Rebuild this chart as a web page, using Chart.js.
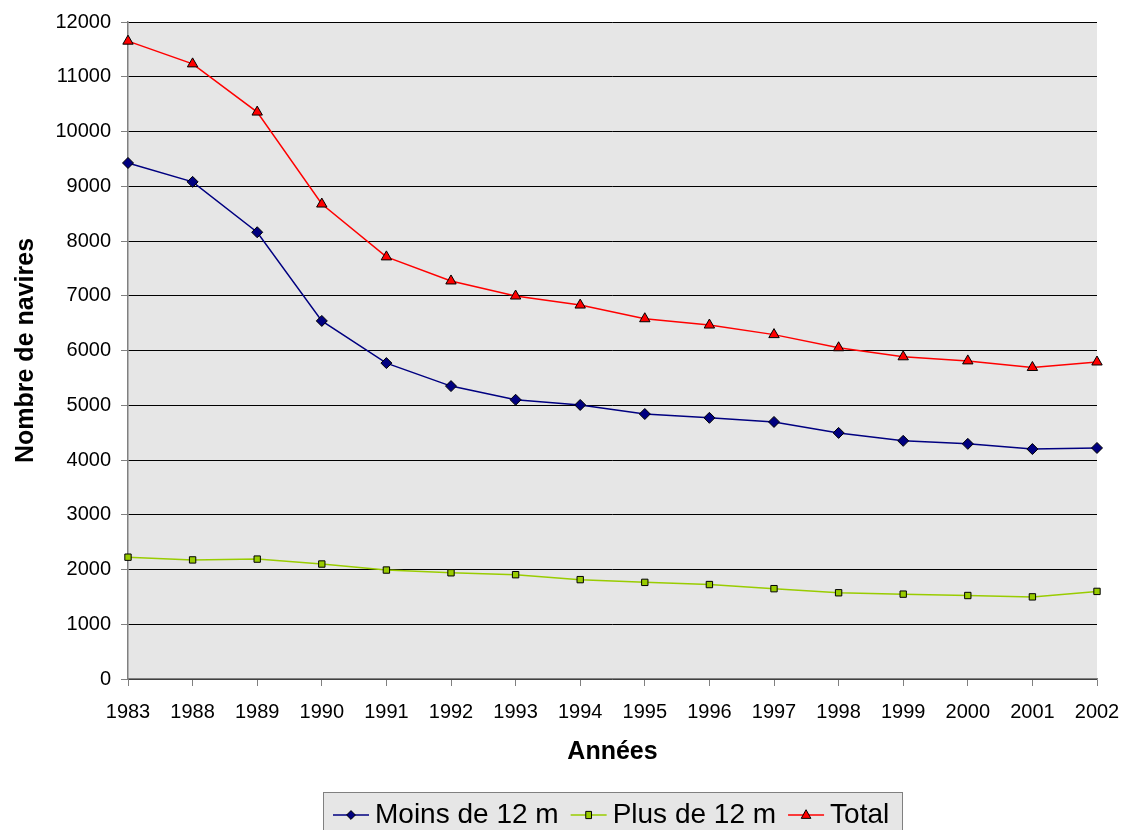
<!DOCTYPE html>
<html>
<head>
<meta charset="utf-8">
<script src="https://cdn.jsdelivr.net/npm/chart.js@4"></script>
<style>
  html, body { margin: 0; padding: 0; background: #fff; }
  #wrap { width: 1122px; height: 830px; }
</style>
</head>
<body>
<div id="wrap"><canvas id="shipChart" width="1122" height="830"></canvas></div>
<script>
const years = ['1983', '1988', '1989', '1990', '1991', '1992', '1993', '1994', '1995', '1996', '1997', '1998', '1999', '2000', '2001', '2002'];
const moins12 = [9425, 9080, 8160, 6540, 5770, 5350, 5100, 5005, 4840, 4770, 4695, 4495, 4350, 4295, 4200, 4220];
const plus12 = [2225, 2175, 2190, 2100, 1990, 1940, 1905, 1815, 1765, 1725, 1650, 1575, 1550, 1525, 1500, 1600];
const total = [11650, 11235, 10355, 8675, 7710, 7270, 6995, 6830, 6580, 6465, 6290, 6050, 5885, 5810, 5690, 5790];

Chart.defaults.font.family = '"Liberation Sans", Arial, sans-serif';
Chart.defaults.color = '#000';

const plotBackground = {
    id: 'plotBackground',
    beforeDraw(chart) {
        const { ctx, chartArea } = chart;
        ctx.save();
        ctx.fillStyle = '#e6e6e6';
        ctx.fillRect(chartArea.left, chartArea.top, chartArea.right - chartArea.left, chartArea.bottom - chartArea.top);
        ctx.restore();
    }
};

function drawMarker(ctx, style, x, y, r) {
    if (style === 'rectRot') {
        ctx.moveTo(x, y - r); ctx.lineTo(x + r, y); ctx.lineTo(x, y + r); ctx.lineTo(x - r, y); ctx.closePath();
    } else if (style === 'rect') {
        ctx.rect(x - r * 0.8, y - r, r * 1.6, r * 2);
    } else {
        ctx.moveTo(x, y - r * 1.1); ctx.lineTo(x + r, y + r * 0.7); ctx.lineTo(x - r, y + r * 0.7); ctx.closePath();
    }
}

// legend box at the bottom, line + marker like the spreadsheet one
const boxLegend = {
    id: 'boxLegend',
    afterDraw(chart) {
        const ctx = chart.ctx;
        const boxX = 323, boxY = 792, boxW = 579, boxH = 40;
        ctx.save();
        ctx.fillStyle = '#e6e6e6';
        ctx.fillRect(boxX, boxY, boxW, boxH);
        ctx.strokeStyle = '#808080';
        ctx.lineWidth = 1;
        ctx.strokeRect(boxX + 0.5, boxY + 0.5, boxW, boxH);
        ctx.font = '28px "Liberation Sans", Arial, sans-serif';
        ctx.textBaseline = 'middle';
        const cy = 815;
        let x = boxX + 10;
        chart.data.datasets.forEach(ds => {
            ctx.strokeStyle = ds.borderColor;
            ctx.lineWidth = 1.5;
            ctx.beginPath();
            ctx.moveTo(x, cy);
            ctx.lineTo(x + 36, cy);
            ctx.stroke();
            ctx.fillStyle = ds.pointBackgroundColor;
            ctx.strokeStyle = '#000';
            ctx.lineWidth = 1;
            ctx.beginPath();
            drawMarker(ctx, ds.pointStyle, x + 18, cy, ds.pointRadius * 0.8);
            ctx.fill();
            ctx.stroke();
            ctx.fillStyle = '#000';
            ctx.fillText(ds.label, x + 42, cy);
            x += 42 + ctx.measureText(ds.label).width + 12;
        });
        ctx.restore();
    }
};

const ctx = document.getElementById('shipChart').getContext('2d');
new Chart(ctx, {
    type: 'line',
    data: {
        labels: years,
        datasets: [
            {
                label: 'Moins de 12 m',
                data: moins12,
                borderColor: '#000080',
                borderWidth: 1.5,
                pointStyle: 'rectRot',
                pointRadius: 5.5,
                pointBackgroundColor: '#000080',
                pointBorderColor: '#000',
                pointBorderWidth: 1,
                tension: 0
            },
            {
                label: 'Plus de 12 m',
                data: plus12,
                borderColor: '#99cc00',
                borderWidth: 1.5,
                pointStyle: 'rect',
                pointRadius: 4.5,
                pointBackgroundColor: '#99cc00',
                pointBorderColor: '#000',
                pointBorderWidth: 1,
                tension: 0
            },
            {
                label: 'Total',
                data: total,
                borderColor: '#ff0000',
                borderWidth: 1.5,
                pointStyle: 'triangle',
                pointRadius: 6,
                pointBackgroundColor: '#ff0000',
                pointBorderColor: '#000',
                pointBorderWidth: 1,
                tension: 0
            }
        ]
    },
    options: {
        responsive: false,
        animation: false,
        layout: { padding: { top: 22, right: 25, left: 0, bottom: 0 } },
        plugins: {
            legend: { display: false },
            tooltip: { enabled: false }
        },
        scales: {
            x: {
                offset: false,
                afterFit(scale) {
                    scale.height = 151;
                    scale.paddingLeft = 0;
                    scale.paddingRight = 0;
                },
                border: { color: '#808080', width: 1.5 },
                grid: { drawOnChartArea: false, drawTicks: true, tickLength: 7, tickColor: '#808080' },
                ticks: { font: { size: 20 }, padding: 14, maxRotation: 0, autoSkip: false },
                title: {
                    display: true,
                    text: 'Années',
                    font: { size: 25, weight: 'bold' },
                    padding: { top: 0, bottom: 63 }
                }
            },
            y: {
                min: 0,
                max: 12000,
                afterFit(scale) { scale.width = 128; },
                border: { color: '#808080', width: 1.5 },
                grid: { color: '#000', lineWidth: 1, drawTicks: true, tickLength: 7, tickColor: '#808080' },
                ticks: { stepSize: 1000, font: { size: 20 }, padding: 10, callback: v => String(v) },
                title: {
                    display: true,
                    text: 'Nombre de navires',
                    font: { size: 25, weight: 'bold' },
                    padding: { top: 11, bottom: 0 }
                }
            }
        }
    },
    plugins: [plotBackground, boxLegend]
});
</script>
</body>
</html>
